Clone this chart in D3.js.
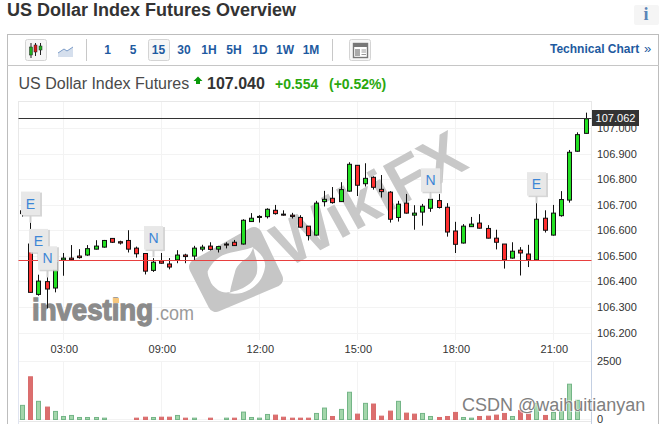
<!DOCTYPE html>
<html>
<head>
<meta charset="utf-8">
<style>
html,body{margin:0;padding:0;background:#fff;overflow:hidden}
svg{display:block;font-family:"Liberation Sans",Arial,sans-serif}
</style>
<script src="https://cdn.jsdelivr.net/npm/d3@7"></script>
</head>
<body>
<div id="chart"></div>
<script>
const titleText = "US Dollar Index Futures Overview";
const instrument = "US Dollar Index Futures";
const lastPrice = "107.040", change = "+0.554", changePct = "(+0.52%)", priceTag = "107.062";
const intervals = ["1","5","15","30","1H","5H","1D","1W","1M"];

const opens = [106.678,106.548,106.351,106.401,106.376,106.486,106.493,106.501,106.505,106.528,106.536,106.570,106.557,106.562,106.532,106.511,106.445,106.482,106.470,106.486,106.505,106.501,106.528,106.540,106.528,106.548,106.555,106.548,106.636,106.656,106.655,106.680,106.665,106.661,106.652,106.618,106.583,106.714,106.727,106.714,106.755,106.856,106.784,106.809,106.762,106.751,106.652,106.708,106.661,106.673,106.688,106.718,106.692,106.599,106.552,106.616,106.630,106.609,106.571,106.548,106.493,106.524,106.509,106.486,106.649,106.583,106.659,106.720,106.911,106.981];
const highs = [106.680,106.632,106.428,106.418,106.494,106.513,106.544,106.528,106.544,106.563,106.564,106.571,106.561,106.602,106.538,106.511,106.493,106.513,106.493,106.524,106.510,106.541,106.545,106.555,106.541,106.555,106.564,106.645,106.669,106.661,106.688,106.701,106.680,106.670,106.661,106.618,106.717,106.756,106.771,106.790,106.868,106.856,106.864,106.813,106.818,106.755,106.717,106.744,106.700,106.705,106.752,106.744,106.708,106.635,106.626,106.654,106.665,106.622,106.604,106.548,106.555,106.536,106.545,106.708,106.680,106.701,106.755,106.916,106.985,107.062];
const lows = [106.655,106.359,106.346,106.296,106.359,106.424,106.486,106.491,106.502,106.527,106.534,106.552,106.546,106.515,106.495,106.429,106.439,106.471,106.449,106.473,106.473,106.486,106.520,106.523,106.515,106.531,106.541,106.546,106.635,106.632,106.648,106.663,106.659,106.648,106.612,106.562,106.581,106.695,106.706,106.713,106.753,106.736,106.773,106.761,106.730,106.632,106.636,106.667,106.604,106.620,106.674,106.687,106.577,106.513,106.550,106.615,106.609,106.570,106.527,106.452,106.491,106.425,106.458,106.485,106.593,106.581,106.655,106.710,106.909,106.980];
const closes = [106.667,106.359,106.403,106.372,106.477,106.493,106.487,106.495,106.530,106.540,106.562,106.555,106.552,106.528,106.510,106.442,106.477,106.473,106.458,106.505,106.499,106.532,106.536,106.527,106.538,106.544,106.542,106.641,106.649,106.653,106.684,106.667,106.661,106.656,106.614,106.581,106.708,106.723,106.710,106.761,106.860,106.778,106.805,106.770,106.753,106.645,106.704,106.669,106.669,106.696,106.723,106.691,106.595,106.547,106.618,106.626,106.610,106.571,106.555,106.486,106.520,106.513,106.486,106.645,106.602,106.669,106.722,106.907,106.976,107.038];

const volumes = [609,1841,783,536,348,130,174,87,87,87,58,0,0,0,58,100,87,100,100,174,58,58,0,58,0,58,58,319,87,58,217,189,100,58,58,58,261,493,130,435,1175,232,696,667,145,362,783,275,232,261,130,87,130,305,87,58,130,145,189,261,130,392,232,696,174,305,348,1522,826,0];
const volumeUp = [1,0,1,0,1,1,1,1,1,1,1,1,1,1,0,0,1,0,0,1,0,1,1,0,1,1,0,1,1,1,1,0,0,0,0,0,1,1,0,1,1,0,1,0,0,0,1,0,0,1,1,0,0,0,1,1,0,0,0,0,1,0,0,1,0,1,1,1,1,1];

const priceTicks = [106.2,106.3,106.4,106.5,106.6,106.7,106.8,106.9,107.0];
const volumeTicks = [0,2500];
const timeLabels = ["03:00","09:00","12:00","15:00","18:00","21:00"];
const timeBars = [5,17,29,41,53,65];
const flagLabels = ["E","E","N","N","N","E"];
const flagBars = [1,2,3,16,50,63];
const flagPrices = [106.632,106.486,106.418,106.497,106.723,106.708];
const previousClose = 106.482, currentLine = 107.04;

const W = 659, H = 424;
const svg = d3.select("#chart").append("svg").attr("width",W).attr("height",H);

const x = d3.scaleLinear().domain([0,69]).range([22.5,586]);
const y = d3.scaleLinear().domain([106.2,107]).range([333,128.5]);
const yV = d3.scaleLinear().domain([0,2500]).range([419.5,361.5]);
const px = v => Math.floor(v)+.5;

/* frame */
svg.append("rect").attr("x",7.5).attr("y",34.5).attr("width",651).attr("height",400).attr("fill","none").attr("stroke","#bdbdbd");
svg.append("line").attr("x1",7).attr("x2",659).attr("y1",65.5).attr("y2",65.5).attr("stroke","#c6c6c6");

/* header */
svg.append("text").attr("x",7).attr("y",16).attr("font-size",18).attr("font-weight","bold").attr("fill","#333").text(titleText);
svg.append("rect").attr("x",634).attr("y",5).attr("width",25).attr("height",20).attr("rx",2).attr("fill","#f5f5f5");
svg.append("text").attr("x",646).attr("y",20).attr("text-anchor","middle").attr("font-family","Liberation Serif,serif").attr("font-weight","bold").attr("font-size",18).attr("fill","#5a85b8").text("i");

/* toolbar */
const btn = (bx,by,bw,bh)=>svg.append("rect").attr("x",bx+.5).attr("y",by+.5).attr("width",bw).attr("height",bh).attr("rx",2).attr("fill","#f6f6f6").attr("stroke","#d4d4d4");
btn(25,39,21,21); btn(148,39,21,21); btn(349,39,21,21);
[[31,"#1fae1f",47,55,43,58],[35.5,"#d91c1c",45,52,43,56],[40.5,"#1fae1f",46,50,43,55]].forEach(c=>{
  svg.append("line").attr("x1",c[0]).attr("x2",c[0]).attr("y1",c[4]).attr("y2",c[5]).attr("stroke","#222");
  svg.append("rect").attr("x",c[0]-1.5).attr("y",c[2]).attr("width",3).attr("height",c[3]-c[2]).attr("fill",c[1]).attr("stroke","#222").attr("stroke-width",.5);
});
svg.append("path").attr("d","M58 53L64 49L67 51L73 47V57H58Z").attr("fill","#d5dfed").attr("stroke","none");
svg.append("path").attr("d","M58 53L64 49L67 51L73 47").attr("fill","none").attr("stroke","#7b9cc8");
[86.5,332.5].forEach(sx=>svg.append("line").attr("x1",sx).attr("x2",sx).attr("y1",39).attr("y2",61).attr("stroke","#c8c8c8"));
const intervalX = [107.5,133,158.5,184,209,234,260,285,311];
svg.append("g").selectAll("text").data(intervals).join("text")
  .attr("x",(d,i)=>intervalX[i]).attr("y",54).attr("text-anchor","middle").attr("font-size",12).attr("font-weight","bold").attr("fill","#1e5aa0").text(d=>d);
svg.append("rect").attr("x",353.5).attr("y",43.5).attr("width",14).attr("height",14).attr("fill","#fff").attr("stroke","#777").attr("stroke-width",1.4);
svg.append("rect").attr("x",354).attr("y",44).attr("width",13).attr("height",3).attr("fill","#777");
svg.append("rect").attr("x",355).attr("y",49).attr("width",5).attr("height",7).attr("fill","#aaa");
[50,52,54.5].forEach(ly=>svg.append("line").attr("x1",361.5).attr("x2",366).attr("y1",ly).attr("y2",ly).attr("stroke","#999"));
svg.append("text").attr("x",550).attr("y",53).attr("font-size",12).attr("font-weight","bold").attr("fill","#1e5aa0").text("Technical Chart");
svg.append("text").attr("x",644).attr("y",53).attr("font-size",13).attr("fill","#1e5aa0").text("»");

/* quote line */
svg.append("text").attr("x",18.5).attr("y",89).attr("font-size",16).attr("fill","#4a4a4a").text(instrument);
svg.append("path").attr("d","M198 76.5L202.5 81H200V84H196V81H193.5Z").attr("fill","#0a9a0a");
svg.append("text").attr("x",207).attr("y",89).attr("font-size",16).attr("font-weight","bold").attr("fill","#333").text(lastPrice);
svg.append("text").attr("x",275).attr("y",89).attr("font-size",14).attr("font-weight","bold").attr("fill","#2aa80e").text(change);
svg.append("text").attr("x",329).attr("y",89).attr("font-size",14).attr("font-weight","bold").attr("fill","#2aa80e").text(changePct);

/* plot frame & grid */
const L=18.5,R=591.5,T=101.5,B=340,VT=361.5;
const grid = svg.append("g").attr("stroke","#f3f3f3");
priceTicks.forEach(t=>grid.append("line").attr("x1",L).attr("x2",R).attr("y1",px(y(t))).attr("y2",px(y(t))));
timeBars.forEach(b=>{
  const gx=px(x(b));
  grid.append("line").attr("x1",gx).attr("x2",gx).attr("y1",T).attr("y2",B);
  grid.append("line").attr("x1",gx).attr("x2",gx).attr("y1",VT).attr("y2",419);
});
grid.append("line").attr("x1",L).attr("x2",R).attr("y1",VT).attr("y2",VT);
grid.append("line").attr("x1",L).attr("x2",R).attr("y1",419.5).attr("y2",419.5);
svg.append("rect").attr("x",L).attr("y",T).attr("width",R-L).attr("height",320).attr("fill","none").attr("stroke","#e8e8e8");
svg.append("line").attr("x1",L).attr("x2",L).attr("y1",340).attr("y2",424).attr("stroke","#e0e4f0");
svg.append("line").attr("x1",R).attr("x2",R).attr("y1",340).attr("y2",424).attr("stroke","#c3cfe2");

/* wikifx watermark under the candles */
const wm = svg.append("g");
wm.append("path").attr("d","M197 267L254 235L275 279L216 304Z").attr("fill","#c6c6c6").attr("stroke","#c6c6c6").attr("stroke-width",16).attr("stroke-linejoin","round");
wm.append("path").attr("d","M207.7 271.3C212 262 219 256 226.7 253.7C236 251 246 250 253.3 247C251 254 248 258 243.3 260.3C238 265 236 268 235 272C233 279 231 286 230 292C225 293 221 292 218.3 290.3C214 287 211 284 210 280.3C208.5 277 207.5 274 207.7 271.3Z").attr("fill","#fff");
wm.append("path").attr("d","M253.3 248C262 254 266 261 265 267C263 281 254 289 241.7 293C237 294 232 294 228.3 293C232 292 236 291 240 289.3C248 286 254 281 256.7 273.7C258 267 257 260 255 255Z").attr("fill","#fff");
wm.append("text").attr("transform","translate(368,198) rotate(-29)").attr("text-anchor","middle").attr("dy",".36em")
  .attr("font-size",63).attr("font-weight","bold").attr("fill","#c8c8c8").text("WikiFX");

/* investing watermark */
svg.append("text").attr("x",32).attr("y",320).attr("font-size",30).attr("font-weight","bold").attr("fill","#8b8b8b").attr("stroke","#8b8b8b").attr("stroke-width",1.3).attr("textLength",121).attr("lengthAdjust","spacingAndGlyphs").text("investing");
svg.append("text").attr("x",155).attr("y",320).attr("font-size",20).attr("fill","#9a9a9a").attr("textLength",39).attr("lengthAdjust","spacingAndGlyphs").text(".com");
svg.append("rect").attr("x",113).attr("y",298).attr("width",6).attr("height",5).attr("fill","#f7c77e");

/* candles */
const idx = d3.range(opens.length);
const bodyW = 4;
const candles = svg.append("g");
candles.selectAll("line").data(idx).join("line")
  .attr("x1",i=>px(x(i))).attr("x2",i=>px(x(i)))
  .attr("y1",i=>y(highs[i])).attr("y2",i=>y(lows[i]))
  .attr("stroke","#111");
candles.selectAll("rect").data(idx).join("rect")
  .attr("x",i=>px(x(i))-bodyW/2).attr("width",bodyW)
  .attr("y",i=>y(Math.max(opens[i],closes[i])))
  .attr("height",i=>Math.max(1,Math.abs(y(opens[i])-y(closes[i]))))
  .attr("fill",i=>closes[i]>=opens[i]?"#22e022":"#ff2f2f")
  .attr("stroke","#111").attr("stroke-width",1);

/* reference lines */
svg.append("line").attr("x1",L).attr("x2",R).attr("y1",px(y(previousClose))).attr("y2",px(y(previousClose))).attr("stroke","#e8403f");
svg.append("line").attr("x1",L).attr("x2",R).attr("y1",px(y(currentLine))).attr("y2",px(y(currentLine))).attr("stroke","#333");

/* volume */
svg.append("g").selectAll("rect").data(idx.filter(i=>volumes[i]>0)).join("rect")
  .attr("x",i=>px(x(i))-2).attr("width",4)
  .attr("y",i=>yV(volumes[i])).attr("height",i=>yV(0)-yV(volumes[i]))
  .attr("fill",i=>volumeUp[i]?"#a3d6ab":"#dc6e6e")
  .attr("stroke",i=>volumeUp[i]?"#74b587":"#d96d6d").attr("stroke-width",1);

/* event flags */
const flags = svg.append("g");
flagLabels.forEach((lab,i)=>{
  const fx=px(x(flagBars[i])), tip=y(flagPrices[i]), top=tip-31;
  flags.append("line").attr("x1",fx).attr("x2",fx).attr("y1",top+24).attr("y2",tip).attr("stroke","#cfcfcf").attr("stroke-width",2);
  flags.append("rect").attr("x",fx-8).attr("y",top+1).attr("width",19.5).attr("height",24).attr("fill","#cfcfcf").attr("opacity",.85);
  flags.append("rect").attr("x",fx-9.5).attr("y",top).attr("width",19).attr("height",23.5).attr("fill","#e8e8e8");
  flags.append("text").attr("x",fx).attr("y",top+17).attr("text-anchor","middle").attr("font-size",14).attr("fill","#3d86d6").text(lab);
});

/* axes */
const axisPrice = d3.axisRight(y).tickValues(priceTicks).tickFormat(d3.format(".3f")).tickSize(0).tickPadding(0);
const gy = svg.append("g").attr("transform","translate(597,-0.5)").call(axisPrice);
gy.select(".domain").remove();
gy.selectAll("text").attr("font-size",11).attr("font-family","Liberation Sans,Arial,sans-serif").attr("fill","#333");

const axisVol = d3.axisRight(yV).tickValues(volumeTicks).tickFormat(d3.format("d")).tickSize(0).tickPadding(0);
const gv = svg.append("g").attr("transform","translate(597,-0.5)").call(axisVol);
gv.select(".domain").remove();
gv.selectAll("text").attr("font-size",11).attr("font-family","Liberation Sans,Arial,sans-serif").attr("fill","#333");

const axisTime = d3.axisBottom(x).tickValues(timeBars).tickFormat((d,i)=>timeLabels[i]).tickSize(0).tickPadding(0);
const gx = svg.append("g").attr("transform","translate(0.5,345)").call(axisTime);
gx.select(".domain").remove();
gx.selectAll("text").attr("font-size",11).attr("font-family","Liberation Sans,Arial,sans-serif").attr("fill","#333");

/* price tag */
svg.append("rect").attr("x",592).attr("y",110).attr("width",47).attr("height",16).attr("fill","#333");
svg.append("text").attr("x",615.5).attr("y",122).attr("text-anchor","middle").attr("font-size",11).attr("fill","#fff").text(priceTag);

/* csdn watermark */
svg.append("text").attr("x",462).attr("y",411).attr("font-size",18).attr("fill","#808080").attr("stroke","#fff").attr("stroke-width",1.5).attr("stroke-opacity",.7).attr("paint-order","stroke").text("CSDN @waihuitianyan");
</script>
</body>
</html>
